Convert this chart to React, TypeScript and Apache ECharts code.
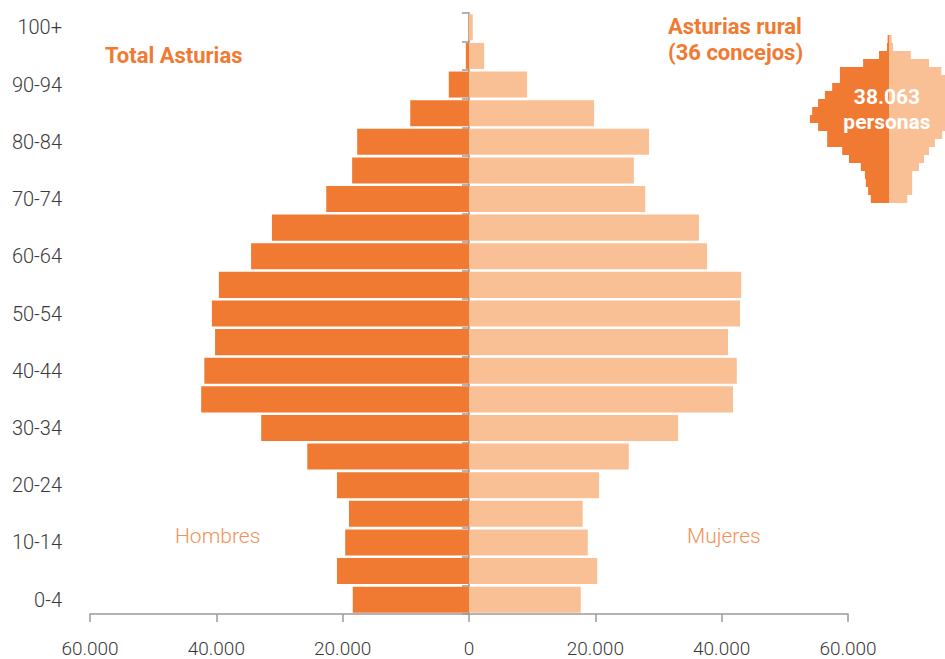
import React, { useEffect, useRef } from "react";
import * as echarts from "echarts";

// Age groups, bottom (0-4) to top (100+)
const ageGroups = [
  "0-4", "5-9", "10-14", "15-19", "20-24", "25-29", "30-34", "35-39", "40-44", "45-49",
  "50-54", "55-59", "60-64", "65-69", "70-74", "75-79", "80-84", "85-89", "90-94", "95-99", "100+",
];

// Total Asturias (persons)
const totalMen = [
  18400, 20900, 19600, 19000, 20900, 25600, 32900, 42400, 41900, 40200,
  40700, 39600, 34500, 31200, 22600, 18500, 17700, 9300, 3200, 500, 50,
];
const totalWomen = [
  17700, 20300, 18800, 18000, 20600, 25300, 33100, 41800, 42400, 41000,
  42900, 43100, 37700, 36400, 27900, 26100, 28500, 19800, 9200, 2400, 600,
];

// Asturias rural, 36 concejos (persons)
const ruralMen = [
  400, 460, 510, 530, 620, 880, 1030, 1360, 1360, 1560,
  1740, 1690, 1560, 1410, 1250, 1080, 1080, 570, 220, 45, 30,
];
const ruralWomen = [
  400, 510, 510, 510, 660, 770, 880, 1010, 1170, 1280,
  1360, 1410, 1450, 1410, 1360, 1280, 1150, 880, 480, 90, 60,
];

const xTicks = { min: -60000, max: 60000, interval: 20000 };
const ruralTotalLabel = "38.063";

const MEN = "#F07A32";
const WOMEN = "#F9C095";
const AXIS = "#9a9a9a";
const LABEL_FONT = "Roboto, 'Liberation Sans', sans-serif";
const TITLE_FONT = "Roboto, 'Liberation Sans', sans-serif";

const fmt = (v: number) =>
  String(Math.abs(v)).replace(/\B(?=(\d{3})+(?!\d))/g, ".");

export default function App() {
  const ref = useRef<HTMLDivElement>(null);

  useEffect(() => {
    if (!ref.current) return;
    const chart = echarts.init(ref.current, undefined, { renderer: "svg" });
    chart.setOption({
      animation: false,
      backgroundColor: "#ffffff",
      grid: [
        { left: 90, right: 97, top: 13, bottom: 45 },
        // inset pyramid: centre at x=889, cropped by the right edge of the picture
        { left: 789, right: 0, top: 35, height: 168 },
      ],
      xAxis: [
        {
          type: "value",
          gridIndex: 0,
          min: xTicks.min,
          max: xTicks.max,
          interval: xTicks.interval,
          splitLine: { show: false },
          axisLine: { show: true, lineStyle: { color: AXIS, width: 1.5 } },
          axisTick: { show: true, length: 8, lineStyle: { color: AXIS, width: 1.5 } },
          axisLabel: {
            formatter: fmt,
            color: "#3a3a3a",
            fontSize: 19,
            fontWeight: 300,
            fontFamily: LABEL_FONT,
            margin: 25,
          },
        },
        {
          type: "value",
          gridIndex: 1,
          min: -2200,
          max: 1232,
          show: false,
        },
      ],
      yAxis: [
        {
          type: "category",
          gridIndex: 0,
          data: ageGroups,
          position: "left",
          axisLine: { show: false, onZero: false },
          axisTick: { show: false },
          axisLabel: {
            interval: 1,
            color: "#3a3a3a",
            fontSize: 20,
            fontWeight: 300,
            fontFamily: LABEL_FONT,
            margin: 28,
          },
        },
        {
          type: "category",
          gridIndex: 0,
          data: ageGroups,
          position: "left",
          axisLine: { show: true, onZero: true, lineStyle: { color: AXIS, width: 1.5 } },
          axisTick: { show: true, length: 7, interval: 0, lineStyle: { color: AXIS, width: 1.5 } },
          axisLabel: { show: false },
        },
        {
          type: "category",
          gridIndex: 1,
          data: ageGroups,
          show: false,
        },
      ],
      series: [
        {
          name: "Hombres",
          type: "bar",
          stack: "total",
          xAxisIndex: 0,
          yAxisIndex: 0,
          barCategoryGap: "9%",
          itemStyle: { color: MEN },
          data: totalMen.map((v) => -v),
        },
        {
          name: "Mujeres",
          type: "bar",
          stack: "total",
          xAxisIndex: 0,
          yAxisIndex: 0,
          barCategoryGap: "9%",
          itemStyle: { color: WOMEN },
          data: totalWomen,
        },
        {
          name: "Hombres rural",
          type: "bar",
          stack: "rural",
          xAxisIndex: 1,
          yAxisIndex: 2,
          barCategoryGap: 0,
          itemStyle: { color: MEN },
          data: ruralMen.map((v) => -v),
        },
        {
          name: "Mujeres rural",
          type: "bar",
          stack: "rural",
          xAxisIndex: 1,
          yAxisIndex: 2,
          barCategoryGap: 0,
          itemStyle: { color: WOMEN },
          data: ruralWomen,
        },
      ],
      graphic: [
        {
          type: "text",
          x: 105,
          y: 55,
          style: {
            text: "Total Asturias",
            fill: MEN,
            font: `bold 22px ${TITLE_FONT}`,
            verticalAlign: "middle",
          },
        },
        {
          type: "text",
          x: 668,
          y: 26,
          style: {
            text: "Asturias rural",
            fill: MEN,
            font: `bold 22px ${TITLE_FONT}`,
            verticalAlign: "middle",
          },
        },
        {
          type: "text",
          x: 668,
          y: 52,
          style: {
            text: "(36 concejos)",
            fill: MEN,
            font: `bold 22px ${TITLE_FONT}`,
            verticalAlign: "middle",
          },
        },
        {
          type: "text",
          x: 175,
          y: 536,
          style: {
            text: "Hombres",
            fill: "#F29057",
            font: `300 21px ${LABEL_FONT}`,
            verticalAlign: "middle",
          },
        },
        {
          type: "text",
          x: 687,
          y: 536,
          style: {
            text: "Mujeres",
            fill: "#F29057",
            font: `300 21px ${LABEL_FONT}`,
            verticalAlign: "middle",
          },
        },
        {
          type: "text",
          x: 887,
          y: 96.5,
          z: 100,
          style: {
            text: ruralTotalLabel,
            fill: "#ffffff",
            font: `bold 21px ${TITLE_FONT}`,
            align: "center",
            verticalAlign: "middle",
          },
        },
        {
          type: "text",
          x: 887,
          y: 121.5,
          z: 100,
          style: {
            text: "personas",
            fill: "#ffffff",
            font: `bold 21px ${TITLE_FONT}`,
            align: "center",
            verticalAlign: "middle",
          },
        },
      ],
    });
    return () => chart.dispose();
  }, []);

  return (
    <div
      ref={ref}
      style={{ position: "fixed", left: 0, top: 0, width: 945, height: 659 }}
    />
  );
}
